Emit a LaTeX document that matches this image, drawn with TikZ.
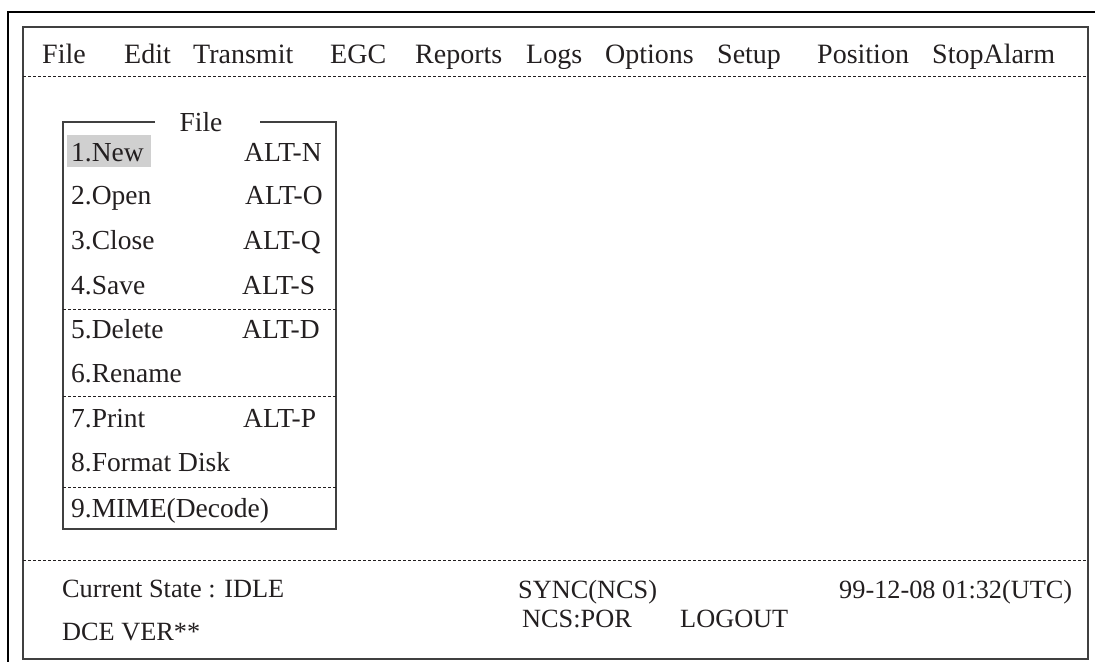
\documentclass[tikz,border=0pt]{standalone}
\usepackage{fontspec}
\setmainfont{Liberation Serif}
\definecolor{ink}{HTML}{231F20}
\definecolor{frame}{HTML}{404040}
\definecolor{hilite}{HTML}{D0D0D0}
\begin{document}
\begin{tikzpicture}[x=1pt,y=-1pt,
  bar/.style={anchor=base west,inner sep=0pt,text=ink,font=\fontsize{28}{30}\selectfont},
  item/.style={anchor=base west,inner sep=0pt,text=ink,font=\fontsize{27.5}{30}\selectfont},
  stat/.style={anchor=base west,inner sep=0pt,text=ink,font=\fontsize{26.3}{28}\selectfont},
  sep/.style={draw=ink,line width=0.8pt,dash pattern=on 3pt off 2pt},
  innerframe/.style={draw=frame,line width=1.4pt},
  boxline/.style={draw=frame,line width=1.2pt}]
\useasboundingbox (0,0) rectangle (1095,662);
\fill[white] (0,0) rectangle (1095,662);
% outer frame
\draw[black,line width=2pt] (1095,12) -- (8,12) -- (8,662);
% inner frame
\draw[innerframe] (23,27) rectangle (1088,659);
% menu bar
\node[bar] (mFile) at (42,63) {File};
\node[bar] (mEdit) at (124,63) {Edit};
\node[bar] (mTransmit) at (193,63) {Transmit};
\node[bar] (mEGC) at (330,63) {EGC};
\node[bar] (mReports) at (415,63) {Reports};
\node[bar] (mLogs) at (526,63) {Logs};
\node[bar] (mOptions) at (605,63) {Options};
\node[bar] (mSetup) at (717,63) {Setup};
\node[bar] (mPosition) at (817,63) {Position};
\node[bar] (mStop) at (932,63) {StopAlarm};
\draw[sep] (23,76) -- (1088,76);
\draw[sep] (23,560) -- (1088,560);
% File menu box
\fill[hilite] (67,135) rectangle (151,167);
\draw[boxline] (155,122) -- (63,122) -- (63,529) -- (336,529) -- (336,122) -- (260,122);
\node[item,anchor=base] (title) at (201,131) {File};
\draw[sep] (63,309) -- (336,309);
\draw[sep] (63,396) -- (336,396);
\draw[sep] (63,487) -- (336,487);
\node[item] (i1) at (71,161) {1.New};
\node[item] (k1) at (244,161) {ALT-N};
\node[item] (i2) at (71,204) {2.Open};
\node[item] (k2) at (245,204) {ALT-O};
\node[item] (i3) at (71,249) {3.Close};
\node[item] (k3) at (243,249) {ALT-Q};
\node[item] (i4) at (71,294) {4.Save};
\node[item] (k4) at (242,294) {ALT-S};
\node[item] (i5) at (71,338) {5.Delete};
\node[item] (k5) at (242,338) {ALT-D};
\node[item] (i6) at (71,382) {6.Rename};
\node[item] (i7) at (71,427) {7.Print};
\node[item] (k7) at (243,427) {ALT-P};
\node[item] (i8) at (71,471) {8.Format Disk};
\node[item] (i9) at (71,517) {9.MIME(Decode)};
% status
\node[stat] (state) at (62,597) {Current State : IDLE};
\node[stat] (dce) at (62,640) {DCE VER**};
\node[stat] (sync) at (518,598) {SYNC(NCS)};
\node[stat] (ncs) at (522,627) {NCS:POR};
\node[stat] (logout) at (680,627) {LOGOUT};
\node[stat] (time) at (839,598) {99-12-08 01:32(UTC)};
\end{tikzpicture}
\end{document}
